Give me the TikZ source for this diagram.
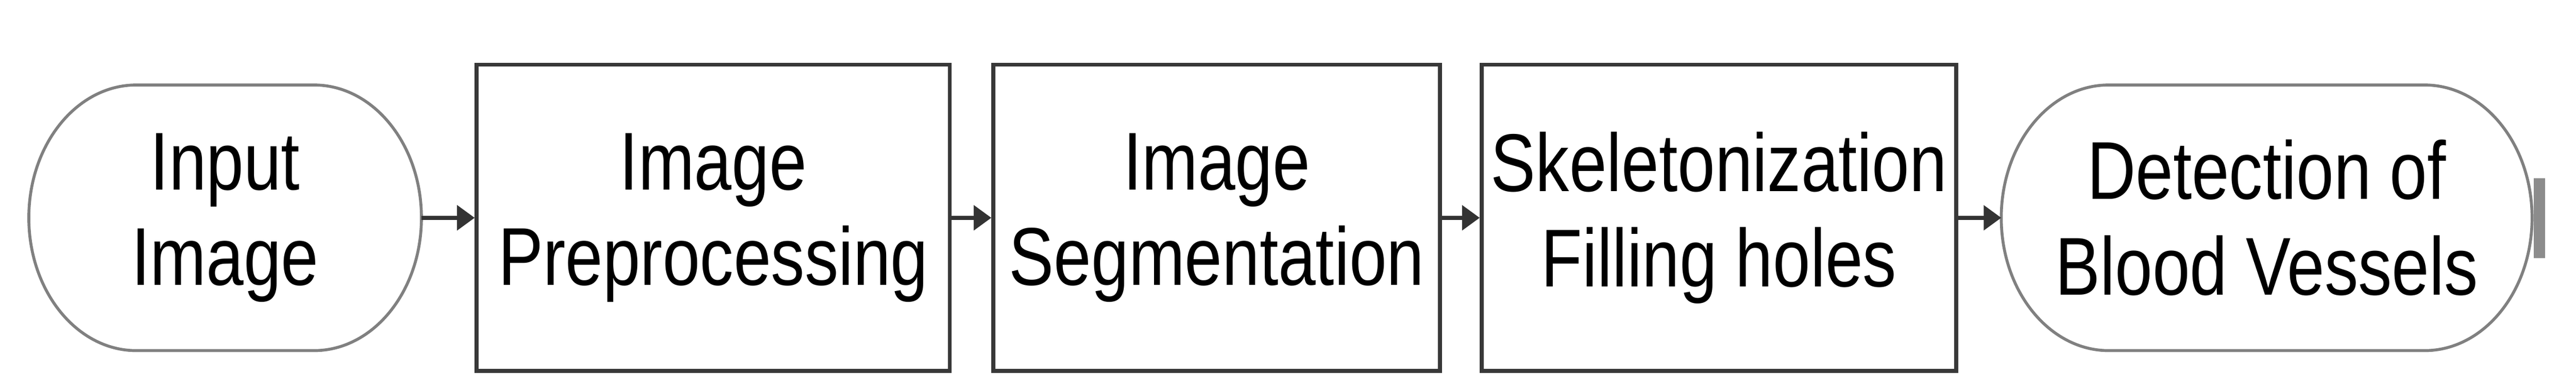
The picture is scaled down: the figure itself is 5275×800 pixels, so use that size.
\documentclass[tikz,border=0pt]{standalone}
\usepackage{fontspec}
\newfontfamily\labfont[FakeStretch=0.82]{Liberation Sans}
\usetikzlibrary{arrows.meta}
\tikzset{
  lab/.style={font=\labfont\fontsize{16.8pt}{19.6pt}\selectfont, align=center, inner sep=0pt, text=black},
  pill/.style={lab, draw=none, outer sep=0pt, minimum height=54.4pt},
  stepbox/.style={lab, draw=black!78, line width=0.8pt, minimum height=62.7pt},
  pillline/.style={draw=black!50, line width=0.6pt, line join=round},
  flow/.style={draw=black!80, line width=0.8pt, -{Triangle[length=3.6pt,width=5pt]}}
}
\begin{document}
\begin{tikzpicture}[x=0.1pt,y=0.1pt]
\useasboundingbox (0,0) rectangle (5275,800);
\fill[white] (0,0) rectangle (5275,800);

\node[pill, minimum width=80.4pt] (inp) at (461,354) {Input\\Image};
\node[stepbox, minimum width=96.9pt] (pre) at (1460.5,354) {Image\\Preprocessing};
\node[stepbox, minimum width=91.5pt] (seg) at (2491.5,354) {Image\\Segmentation};
\node[stepbox, minimum width=97.2pt] (ske) at (3520,354) {Skeletonization\\Filling holes};
\node[pill, minimum width=108.7pt] (det) at (4641.5,354) {Detection of\\Blood Vessels};

\foreach \n in {inp,det}{
  \draw[pillline] ([xshift=22pt]\n.north west) -- ([xshift=-22pt]\n.north east)
    arc[start angle=90,end angle=-90,x radius=22pt,y radius=27.2pt]
    -- ([xshift=22pt]\n.south west)
    arc[start angle=270,end angle=90,x radius=22pt,y radius=27.2pt] -- cycle;
}

\draw[flow] (inp.east) -- (pre.west);
\draw[flow] (pre.east) -- (seg.west);
\draw[flow] (seg.east) -- (ske.west);
\draw[flow] (ske.east) -- (det.west);

\fill[black!45] (5188,272) rectangle (5212,435);
\end{tikzpicture}
\end{document}
